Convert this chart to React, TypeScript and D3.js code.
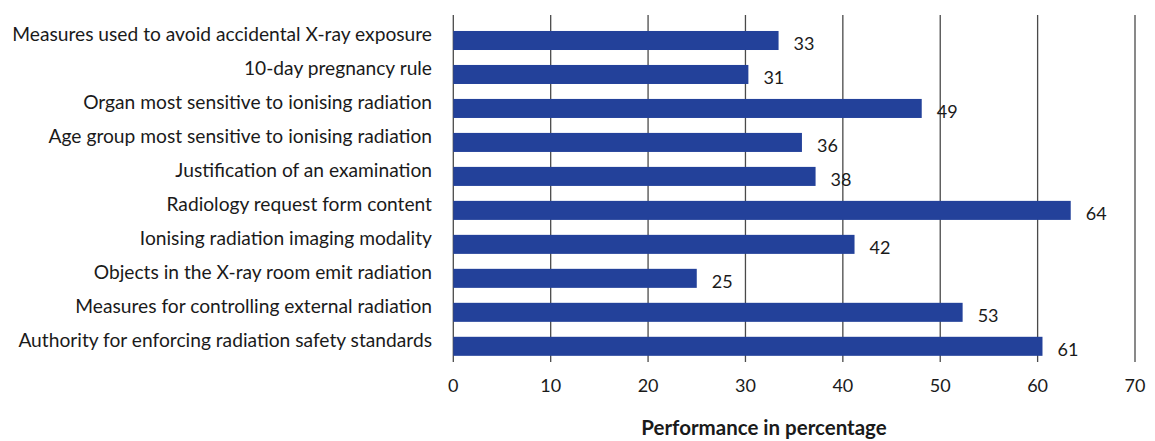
import React, { useEffect } from "react";
import * as d3 from "d3";

const categories = [
  "Measures used to avoid accidental X-ray exposure",
  "10-day pregnancy rule",
  "Organ most sensitive to ionising radiation",
  "Age group most sensitive to ionising radiation",
  "Justification of an examination",
  "Radiology request form content",
  "Ionising radiation imaging modality",
  "Objects in the X-ray room emit radiation",
  "Measures for controlling external radiation",
  "Authority for enforcing radiation safety standards",
];
const values = [33.4, 30.3, 48.1, 35.8, 37.2, 63.4, 41.2, 25.0, 52.3, 60.5];
const valueLabels = ["33", "31", "49", "36", "38", "64", "42", "25", "53", "61"];
const xTicks = [0, 10, 20, 30, 40, 50, 60, 70];
const xTitle = "Performance in percentage";

const W = 1155;
const H = 441;
const FONT = "Lato, 'Open Sans', sans-serif";
const TEXT = "#1a1a1a";
const BAR = "#23419a";
const GRID = "#4a4a4a";

export default function App() {
  useEffect(() => {
    document.body.style.margin = "0";
  }, []);

  const x = d3.scaleLinear().domain([0, 70]).range([453.3, 1135]);
  const y = d3.scaleBand<number>().domain(d3.range(categories.length)).range([23.5, 363.3]).paddingInner(0.44).paddingOuter(0.22);
  const gridTop = 15;
  const gridBottom = 362;

  return (
    <svg width={W} height={H} style={{ display: "block" }} fontFamily={FONT}>
      <rect width={W} height={H} fill="#fff" />
      {xTicks.map((t) => (
        <line key={"g" + t} x1={x(t)} x2={x(t)} y1={gridTop} y2={gridBottom} stroke={GRID} strokeWidth={1.3} />
      ))}
      {values.map((v, i) => (
        <rect key={"b" + i} x={x(0)} y={y(i)!} width={x(v) - x(0)} height={y.bandwidth()} fill={BAR} />
      ))}
      {values.map((v, i) => (
        <text key={"v" + i} x={x(v) + 15} y={y(i)! + y.bandwidth() / 2} dy="0.55em" fontSize={18} fill={TEXT}>
          {valueLabels[i]}
        </text>
      ))}
      {categories.map((c, i) => (
        <text key={"c" + i} x={432} y={y(i)! + y.bandwidth() / 2 - 6.5} dy="0.35em" textAnchor="end" fontSize={19.2} fill={TEXT}>
          {c}
        </text>
      ))}
      {xTicks.map((t) => (
        <text key={"t" + t} x={x(t)} y={386} dy="0.35em" textAnchor="middle" fontSize={18} fill={TEXT}>
          {t}
        </text>
      ))}
      <text x={764} y={434.5} textAnchor="middle" fontSize={20.5} fontWeight="bold" fill={TEXT}>
        {xTitle}
      </text>
    </svg>
  );
}
